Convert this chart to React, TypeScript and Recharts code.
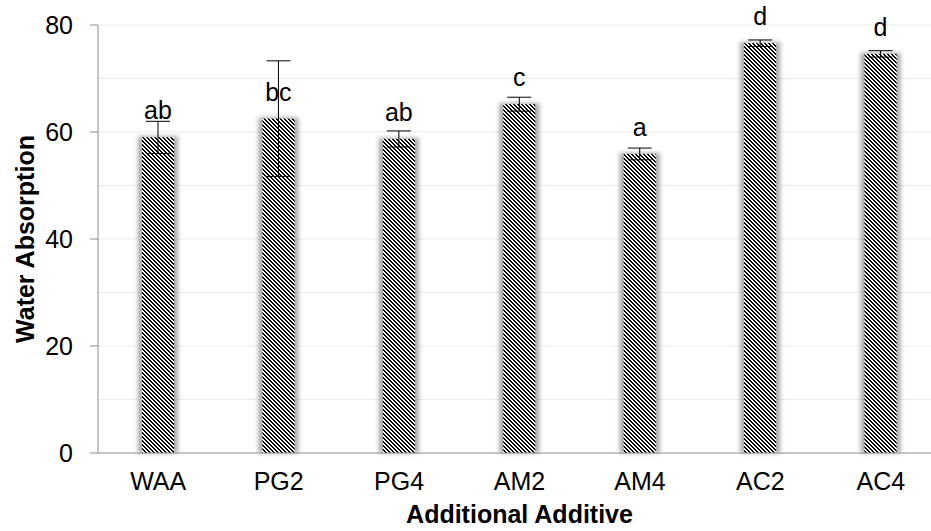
import React from 'react';
import { BarChart, Bar, XAxis, YAxis, CartesianGrid, ErrorBar, LabelList, Label } from 'recharts';

const categories = ['WAA', 'PG2', 'PG4', 'AM2', 'AM4', 'AC2', 'AC4'];
const means = [59.0, 62.5, 58.7, 65.2, 55.9, 76.6, 74.6];
const errors = [3.0, 10.8, 1.5, 1.3, 1.1, 0.6, 0.6];
const groups = ['ab', 'bc', 'ab', 'c', 'a', 'd', 'd'];
const yTicks = [0, 20, 40, 60, 80];
const gridValues = [10, 20, 30, 40, 50, 60, 70, 80];

const data = categories.map((name, i) => ({
  name,
  value: means[i],
  err: errors[i],
  group: groups[i],
}));

const font = '"Liberation Sans", Arial, sans-serif';
const size = 25;

const StripedBar = (props: any) => {
  const { x, y, width, height } = props;
  return (
    <g>
      <rect x={x - 4} y={y - 1} width={width + 8} height={height + 1} fill="#a8a8a8" filter="url(#soft)" />
      <rect x={x} y={y} width={width} height={height} fill="url(#stripes)" />
    </g>
  );
};

const App = () => {
  return (
    <div style={{ position: 'fixed', left: 0, top: 0, width: 931, height: 531, overflow: 'hidden', background: '#fff' }}>
      <BarChart
        width={945}
        height={531}
        data={data}
        margin={{ top: 25, right: 4, bottom: 0, left: 0 }}
        style={{ fontFamily: font }}
      >
        <defs>
          <pattern id="stripes" width="4" height="4" patternUnits="userSpaceOnUse">
            <rect width="4" height="4" fill="#fff" />
            <polygon points="0,0 2,0 4,2 4,4" fill="#000" shapeRendering="crispEdges" />
            <polygon points="0,2 2,4 0,4" fill="#000" shapeRendering="crispEdges" />
          </pattern>
          <filter id="soft" x="-30%" y="-5%" width="160%" height="110%">
            <feGaussianBlur stdDeviation="2" />
          </filter>
        </defs>
        <CartesianGrid vertical={false} horizontalValues={gridValues} stroke="#ebebeb" />
        <XAxis
          dataKey="name"
          tickLine={false}
          tickSize={0}
          tickMargin={19}
          height={78}
          stroke="#8c8c8c"
          fontSize={size}
          tick={{ fill: '#000', fontSize: size, fontFamily: font }}
        >
          <Label value="Additional Additive" position="center" dy={22} fontSize={size} fontWeight="bold" fill="#000" fontFamily={font} />
        </XAxis>
        <YAxis
          domain={[0, 80]}
          ticks={yTicks}
          width={98}
          tickSize={8}
          tickMargin={17}
          stroke="#8c8c8c"
          fontSize={size}
          tick={{ fill: '#000', fontSize: size, fontFamily: font }}
        >
          <Label value="Water Absorption" angle={-90} position="center" dx={-24} fontSize={size} fontWeight="bold" fill="#000" fontFamily={font} />
        </YAxis>
        <Bar dataKey="value" barSize={32} shape={<StripedBar />} isAnimationActive={false}>
          <ErrorBar dataKey="err" width={12} stroke="#000" strokeWidth={1} direction="y" />
          <LabelList dataKey="group" position="top" offset={18} fontSize={size} fill="#000" fontFamily={font} />
        </Bar>
      </BarChart>
    </div>
  );
};

export default App;
